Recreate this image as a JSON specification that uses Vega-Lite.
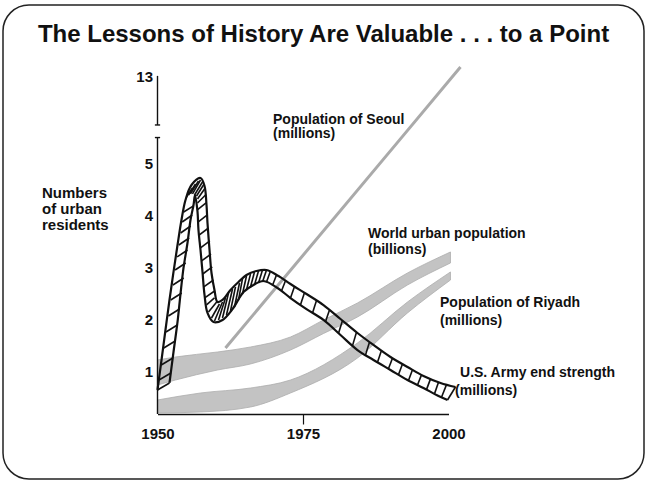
{
  "$schema": "https://vega.github.io/schema/vega-lite/v6.json",
  "width": 641,
  "height": 474,
  "autosize": "none",
  "padding": {"left": 3, "top": 5, "right": 4, "bottom": 5},
  "background": "white",
  "title": {"text": "The Lessons of History Are Valuable . . . to a Point", "font": "Liberation Sans", "fontSize": 24, "fontWeight": "bold", "color": "#111", "anchor": "middle", "frame": "group", "baseline": "alphabetic", "offset": -61},
  "config": {
    "view": {"stroke": "#222", "strokeWidth": 1.5, "cornerRadius": 26},
    "font": "Liberation Sans",
    "axis": {"grid": false, "labelFont": "Liberation Sans", "labelFontWeight": "bold", "labelFontSize": 15, "labelColor": "#111"}
  },
  "datasets": {
    "world": [
      {"year": 1950.0, "hi": 1.22, "lo": 0.738},
      {"year": 1953.09, "hi": 1.278, "lo": 0.834},
      {"year": 1960.31, "hi": 1.374, "lo": 1.027},
      {"year": 1965.98, "hi": 1.47, "lo": 1.143},
      {"year": 1972.85, "hi": 1.663, "lo": 1.412},
      {"year": 1978.52, "hi": 1.991, "lo": 1.73},
      {"year": 1984.36, "hi": 2.318, "lo": 2.048},
      {"year": 1992.95, "hi": 2.896, "lo": 2.665},
      {"year": 2000.34, "hi": 3.301, "lo": 3.089}
    ],
    "riyadh": [
      {"year": 1950.0, "hi": 0.449, "lo": 0.198},
      {"year": 1957.39, "hi": 0.584, "lo": 0.218},
      {"year": 1965.98, "hi": 0.68, "lo": 0.314},
      {"year": 1972.85, "hi": 0.834, "lo": 0.584},
      {"year": 1984.36, "hi": 1.547, "lo": 1.258},
      {"year": 1992.95, "hi": 2.337, "lo": 2.126},
      {"year": 2000.34, "hi": 2.916, "lo": 2.761}
    ],
    "seoul": [
      {"year": 1961.68, "v": 1.451},
      {"year": 1991.89, "v": 5.5},
      {"year": 2002.06, "v": 14.19}
    ],
    "army": [
      {"edge": "A", "i": 1, "year": 1950.0, "v": 0.642},
      {"edge": "A", "i": 2, "year": 1950.69, "v": 1.22},
      {"edge": "A", "i": 3, "year": 1951.37, "v": 1.798},
      {"edge": "A", "i": 4, "year": 1952.06, "v": 2.376},
      {"edge": "A", "i": 5, "year": 1952.75, "v": 2.916},
      {"edge": "A", "i": 6, "year": 1953.44, "v": 3.436},
      {"edge": "A", "i": 7, "year": 1954.12, "v": 3.918},
      {"edge": "A", "i": 8, "year": 1954.81, "v": 4.303},
      {"edge": "A", "i": 9, "year": 1955.84, "v": 4.592},
      {"edge": "A", "i": 10, "year": 1957.39, "v": 4.727},
      {"edge": "A", "i": 11, "year": 1958.08, "v": 4.573},
      {"edge": "A", "i": 12, "year": 1958.42, "v": 4.207},
      {"edge": "A", "i": 13, "year": 1958.59, "v": 3.86},
      {"edge": "A", "i": 14, "year": 1958.94, "v": 3.339},
      {"edge": "A", "i": 15, "year": 1959.28, "v": 2.896},
      {"edge": "A", "i": 16, "year": 1959.79, "v": 2.569},
      {"edge": "A", "i": 17, "year": 1960.31, "v": 2.337},
      {"edge": "A", "i": 18, "year": 1961.17, "v": 2.376},
      {"edge": "A", "i": 19, "year": 1962.54, "v": 2.569},
      {"edge": "A", "i": 20, "year": 1963.92, "v": 2.723},
      {"edge": "A", "i": 21, "year": 1965.29, "v": 2.858},
      {"edge": "A", "i": 22, "year": 1967.01, "v": 2.935},
      {"edge": "A", "i": 23, "year": 1968.73, "v": 2.954},
      {"edge": "A", "i": 24, "year": 1970.79, "v": 2.838},
      {"edge": "A", "i": 25, "year": 1972.85, "v": 2.684},
      {"edge": "A", "i": 26, "year": 1975.6, "v": 2.491},
      {"edge": "A", "i": 27, "year": 1978.52, "v": 2.279},
      {"edge": "A", "i": 28, "year": 1981.44, "v": 2.01},
      {"edge": "A", "i": 29, "year": 1984.36, "v": 1.74},
      {"edge": "A", "i": 30, "year": 1987.11, "v": 1.509},
      {"edge": "A", "i": 31, "year": 1990.03, "v": 1.277},
      {"edge": "A", "i": 32, "year": 1992.95, "v": 1.085},
      {"edge": "A", "i": 33, "year": 1995.7, "v": 0.911},
      {"edge": "A", "i": 34, "year": 1998.63, "v": 0.777},
      {"edge": "A", "i": 35, "year": 2001.2, "v": 0.699},
      {"edge": "B", "i": 1, "year": 1952.06, "v": 0.777},
      {"edge": "B", "i": 2, "year": 1952.75, "v": 1.374},
      {"edge": "B", "i": 3, "year": 1953.44, "v": 1.952},
      {"edge": "B", "i": 4, "year": 1953.95, "v": 2.491},
      {"edge": "B", "i": 5, "year": 1954.47, "v": 2.993},
      {"edge": "B", "i": 6, "year": 1955.15, "v": 3.474},
      {"edge": "B", "i": 7, "year": 1955.67, "v": 3.918},
      {"edge": "B", "i": 8, "year": 1956.19, "v": 4.207},
      {"edge": "B", "i": 9, "year": 1956.44, "v": 4.399},
      {"edge": "B", "i": 10, "year": 1956.87, "v": 4.085},
      {"edge": "B", "i": 11, "year": 1957.04, "v": 3.725},
      {"edge": "B", "i": 12, "year": 1957.39, "v": 3.339},
      {"edge": "B", "i": 13, "year": 1957.73, "v": 2.916},
      {"edge": "B", "i": 14, "year": 1958.08, "v": 2.473},
      {"edge": "B", "i": 15, "year": 1958.59, "v": 2.126},
      {"edge": "B", "i": 16, "year": 1959.62, "v": 1.952},
      {"edge": "B", "i": 17, "year": 1961.17, "v": 1.991},
      {"edge": "B", "i": 18, "year": 1962.89, "v": 2.2},
      {"edge": "B", "i": 19, "year": 1964.78, "v": 2.53},
      {"edge": "B", "i": 20, "year": 1966.49, "v": 2.665},
      {"edge": "B", "i": 21, "year": 1968.21, "v": 2.742},
      {"edge": "B", "i": 22, "year": 1970.62, "v": 2.607},
      {"edge": "B", "i": 23, "year": 1972.85, "v": 2.414},
      {"edge": "B", "i": 24, "year": 1975.6, "v": 2.2},
      {"edge": "B", "i": 25, "year": 1978.52, "v": 1.991},
      {"edge": "B", "i": 26, "year": 1981.44, "v": 1.701},
      {"edge": "B", "i": 27, "year": 1984.36, "v": 1.412},
      {"edge": "B", "i": 28, "year": 1987.11, "v": 1.22},
      {"edge": "B", "i": 29, "year": 1990.03, "v": 1.027},
      {"edge": "B", "i": 30, "year": 1992.95, "v": 0.834},
      {"edge": "B", "i": 31, "year": 1995.7, "v": 0.68},
      {"edge": "B", "i": 32, "year": 1998.28, "v": 0.526},
      {"edge": "B", "i": 33, "year": 1999.83, "v": 0.449}
    ],
    "hatch": [
      {"year": 1950.0, "v": 0.642, "year2": 1952.06, "v2": 0.777},
      {"year": 1950.26, "v": 0.834, "year2": 1952.3, "v2": 0.969},
      {"year": 1950.64, "v": 1.123, "year2": 1952.65, "v2": 1.258},
      {"year": 1951.07, "v": 1.451, "year2": 1953.04, "v2": 1.586},
      {"year": 1951.46, "v": 1.759, "year2": 1953.4, "v2": 1.894},
      {"year": 1951.87, "v": 2.068, "year2": 1953.78, "v2": 2.202},
      {"year": 1952.27, "v": 2.376, "year2": 1954.16, "v2": 2.511},
      {"year": 1952.65, "v": 2.665, "year2": 1954.5, "v2": 2.8},
      {"year": 1953.02, "v": 2.954, "year2": 1954.84, "v2": 3.089},
      {"year": 1953.37, "v": 3.205, "year2": 1955.15, "v2": 3.339},
      {"year": 1953.66, "v": 3.436, "year2": 1955.43, "v2": 3.571},
      {"year": 1953.97, "v": 3.667, "year2": 1955.7, "v2": 3.802},
      {"year": 1954.24, "v": 3.879, "year2": 1955.96, "v2": 4.014},
      {"year": 1954.5, "v": 4.072, "year2": 1956.18, "v2": 4.188},
      {"year": 1954.98, "v": 4.361, "year2": 1956.01, "v2": 4.534},
      {"year": 1955.33, "v": 4.399, "year2": 1956.53, "v2": 4.611},
      {"year": 1955.67, "v": 4.419, "year2": 1957.04, "v2": 4.669},
      {"year": 1956.01, "v": 4.419, "year2": 1957.39, "v2": 4.688},
      {"year": 1956.36, "v": 4.399, "year2": 1957.73, "v2": 4.65},
      {"year": 1956.7, "v": 4.38, "year2": 1957.9, "v2": 4.592},
      {"year": 1956.87, "v": 4.322, "year2": 1958.08, "v2": 4.515},
      {"year": 1956.87, "v": 4.245, "year2": 1958.25, "v2": 4.399},
      {"year": 1956.84, "v": 4.11, "year2": 1958.35, "v2": 4.245},
      {"year": 1957.01, "v": 3.879, "year2": 1958.56, "v2": 4.014},
      {"year": 1957.2, "v": 3.629, "year2": 1958.76, "v2": 3.763},
      {"year": 1957.39, "v": 3.378, "year2": 1958.99, "v2": 3.513},
      {"year": 1957.58, "v": 3.128, "year2": 1959.19, "v2": 3.262},
      {"year": 1957.77, "v": 2.877, "year2": 1959.41, "v2": 3.012},
      {"year": 1957.95, "v": 2.627, "year2": 1959.62, "v2": 2.761},
      {"year": 1958.11, "v": 2.415, "year2": 1959.81, "v2": 2.549},
      {"year": 1958.42, "v": 2.28, "year2": 1959.79, "v2": 2.415},
      {"year": 1958.76, "v": 2.145, "year2": 1960.31, "v2": 2.357},
      {"year": 1959.28, "v": 2.029, "year2": 1960.65, "v2": 2.299},
      {"year": 1959.79, "v": 1.971, "year2": 1961.17, "v2": 2.337},
      {"year": 1960.48, "v": 1.991, "year2": 1961.68, "v2": 2.415},
      {"year": 1961.17, "v": 2.029, "year2": 1962.2, "v2": 2.511},
      {"year": 1961.85, "v": 2.087, "year2": 1962.89, "v2": 2.588},
      {"year": 1962.54, "v": 2.164, "year2": 1963.4, "v2": 2.627},
      {"year": 1963.23, "v": 2.241, "year2": 1964.09, "v2": 2.704},
      {"year": 1963.92, "v": 2.376, "year2": 1964.6, "v2": 2.781},
      {"year": 1964.6, "v": 2.492, "year2": 1965.29, "v2": 2.838},
      {"year": 1965.29, "v": 2.569, "year2": 1965.98, "v2": 2.877},
      {"year": 1965.98, "v": 2.627, "year2": 1966.66, "v2": 2.916},
      {"year": 1966.66, "v": 2.665, "year2": 1967.35, "v2": 2.935},
      {"year": 1967.35, "v": 2.704, "year2": 1968.04, "v2": 2.954},
      {"year": 1968.04, "v": 2.723, "year2": 1968.73, "v2": 2.954},
      {"year": 1968.73, "v": 2.723, "year2": 1969.41, "v2": 2.935},
      {"year": 1969.76, "v": 2.655, "year2": 1970.44, "v2": 2.858},
      {"year": 1971.3, "v": 2.548, "year2": 1971.99, "v2": 2.748},
      {"year": 1972.85, "v": 2.415, "year2": 1973.54, "v2": 2.636},
      {"year": 1974.57, "v": 2.282, "year2": 1975.25, "v2": 2.515},
      {"year": 1976.63, "v": 2.127, "year2": 1977.32, "v2": 2.366},
      {"year": 1978.86, "v": 1.956, "year2": 1979.55, "v2": 2.185},
      {"year": 1981.1, "v": 1.736, "year2": 1981.79, "v2": 1.979},
      {"year": 1983.51, "v": 1.497, "year2": 1984.19, "v2": 1.756},
      {"year": 1985.74, "v": 1.316, "year2": 1986.43, "v2": 1.567},
      {"year": 1987.8, "v": 1.174, "year2": 1988.48, "v2": 1.401},
      {"year": 1989.68, "v": 1.05, "year2": 1990.37, "v2": 1.254},
      {"year": 1991.4, "v": 0.937, "year2": 1992.09, "v2": 1.141},
      {"year": 1993.12, "v": 0.825, "year2": 1993.81, "v2": 1.031},
      {"year": 1994.67, "v": 0.738, "year2": 1995.36, "v2": 0.933},
      {"year": 1996.22, "v": 0.649, "year2": 1996.91, "v2": 0.856},
      {"year": 1997.59, "v": 0.567, "year2": 1998.28, "v2": 0.792},
      {"year": 1998.8, "v": 0.501, "year2": 1999.66, "v2": 0.746},
      {"year": 1999.83, "v": 0.449, "year2": 2001.2, "v2": 0.699}
    ],
    "axisparts": [
      {"year": 1950, "year2": 1950, "v": 0.18, "v2": 5.536},
      {"year": 1950, "year2": 1950, "v": 7.08, "v2": 13.1},
      {"year": 1949.55, "year2": 1950.45, "v": 5.536, "v2": 5.536},
      {"year": 1949.55, "year2": 1950.45, "v": 7.08, "v2": 7.08}
    ],
    "labels": [
      {"label": "Population of Seoul", "year": 1969.85, "v": 7.75},
      {"label": "(millions)", "year": 1969.85, "v": 5.97},
      {"label": "World urban population", "year": 1986.17, "v": 3.647},
      {"label": "(billions)", "year": 1986.17, "v": 3.339},
      {"label": "Population of Riyadh", "year": 1998.54, "v": 2.318},
      {"label": "(millions)", "year": 1998.54, "v": 1.971},
      {"label": "U.S. Army end strength", "year": 2001.98, "v": 0.97},
      {"label": "(millions)", "year": 2001.12, "v": 0.622}
    ]
  },
  "layer": [
    {
      "data": {"name": "world"},
      "mark": {"type": "area", "interpolate": "monotone", "fill": "#bdbdbd", "stroke": "#a5a5a5", "strokeWidth": 0.8, "opacity": 0.9},
      "encoding": {
        "x": {"field": "year", "type": "quantitative",
          "scale": {"domain": [1950, 2000], "range": [154.5, 445.5], "nice": false, "zero": false},
          "axis": {"orient": "bottom", "offset": -65, "values": [1950, 1975, 2000], "format": "d", "title": null,
            "domainColor": "#111", "domainWidth": 1.6,
            "tickColor": {"condition": {"test": "datum.value == 1975", "value": "#111"}, "value": "transparent"},
            "tickSize": 10, "tickWidth": 1.2, "labelPadding": 2, "labelFlush": false}},
        "y": {"field": "hi", "type": "quantitative",
          "scale": {"domain": [0, 5.5, 13], "range": [418.3, 132.85, 71.7], "nice": false, "zero": false},
          "axis": {"orient": "left", "offset": -154.5, "values": [1, 2, 3, 4, 5, 13], "format": "d", "domain": false, "ticks": false, "tickSize": 0, "labelPadding": 5,
            "title": ["Numbers", "of urban", "residents"], "titleAngle": 0, "titleAlign": "left", "titleBaseline": "top",
            "titleX": -116, "titleY": 180, "titleFont": "Liberation Sans", "titleFontSize": 15, "titleFontWeight": "bold", "titleLineHeight": 16, "titleColor": "#111"}},
        "y2": {"field": "lo"}
      }
    },
    {
      "data": {"name": "riyadh"},
      "mark": {"type": "area", "interpolate": "monotone", "fill": "#bdbdbd", "stroke": "#a5a5a5", "strokeWidth": 0.8, "opacity": 0.9},
      "encoding": {
        "x": {"field": "year", "type": "quantitative"},
        "y": {"field": "hi", "type": "quantitative"},
        "y2": {"field": "lo"}
      }
    },
    {
      "data": {"name": "seoul"},
      "mark": {"type": "line", "color": "#aaaaaa", "strokeWidth": 3},
      "encoding": {
        "x": {"field": "year", "type": "quantitative"},
        "y": {"field": "v", "type": "quantitative"}
      }
    },
    {
      "data": {"name": "army"},
      "mark": {"type": "line", "interpolate": "catmull-rom", "color": "#111", "strokeWidth": 2.2},
      "encoding": {
        "x": {"field": "year", "type": "quantitative"},
        "y": {"field": "v", "type": "quantitative"},
        "detail": {"field": "edge"},
        "order": {"field": "i", "type": "quantitative"}
      }
    },
    {
      "data": {"name": "hatch"},
      "mark": {"type": "rule", "color": "#111", "strokeWidth": 1.6},
      "encoding": {
        "x": {"field": "year", "type": "quantitative"},
        "y": {"field": "v", "type": "quantitative"},
        "x2": {"field": "year2"},
        "y2": {"field": "v2"}
      }
    },
    {
      "data": {"name": "axisparts"},
      "mark": {"type": "rule", "color": "#111", "strokeWidth": 1.4},
      "encoding": {
        "x": {"field": "year", "type": "quantitative"},
        "y": {"field": "v", "type": "quantitative"},
        "x2": {"field": "year2"},
        "y2": {"field": "v2"}
      }
    },
    {
      "data": {"name": "labels"},
      "mark": {"type": "text", "align": "left", "baseline": "middle", "font": "Liberation Sans", "fontSize": 14, "fontWeight": "bold", "color": "#111"},
      "encoding": {
        "x": {"field": "year", "type": "quantitative"},
        "y": {"field": "v", "type": "quantitative"},
        "text": {"field": "label"}
      }
    }
  ]
}
